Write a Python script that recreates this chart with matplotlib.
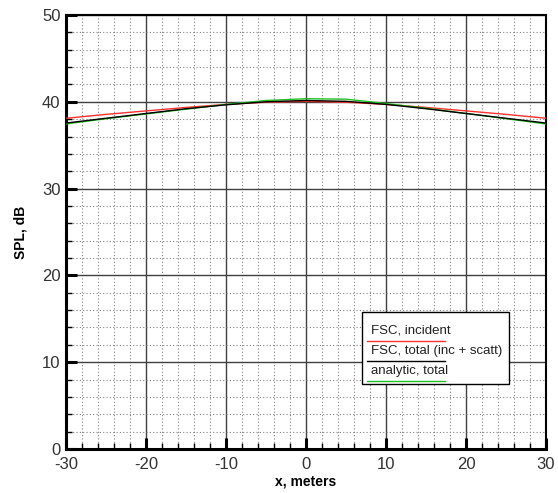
import matplotlib
matplotlib.use('Agg')
import matplotlib.pyplot as plt
from matplotlib.ticker import MultipleLocator
from matplotlib.patches import Rectangle

# ── datos ──
x_m = [-30, -25, -20, -15, -10, -5, 0, 5, 10, 15, 20, 25, 30]
spl_incident = [38.1, 38.55, 38.95, 39.35, 39.7, 39.95, 40.05, 39.95, 39.7, 39.35, 38.95, 38.55, 38.1]
spl_total = [37.55, 38.1, 38.65, 39.2, 39.65, 40.0, 40.15, 40.05, 39.7, 39.2, 38.65, 38.1, 37.55]
spl_analytic = [37.45, 38.05, 38.6, 39.15, 39.7, 40.15, 40.35, 40.3, 39.8, 39.25, 38.65, 38.05, 37.45]

labels = ['FSC, incident', 'FSC, total (inc + scatt)', 'analytic, total']
colors = ['#ff3030', '#000000', '#20c020']

plt.rcParams['font.family'] = ['Liberation Sans', 'DejaVu Sans']
plt.rcParams['axes.unicode_minus'] = False

fig = plt.figure(figsize=(5.58, 4.93), dpi=100, facecolor='white')
ax = fig.add_axes([0.1183, 0.0893, 0.8602, 0.8803])

ax.plot(x_m, spl_incident, color=colors[0], linewidth=1.0, zorder=3)
ax.plot(x_m, spl_total, color=colors[1], linewidth=1.0, zorder=4)
ax.plot(x_m, spl_analytic, color=colors[2], linewidth=1.0, zorder=3)

ax.set_xlim(-30, 30)
ax.set_ylim(0, 50)
ax.xaxis.set_major_locator(MultipleLocator(10))
ax.xaxis.set_minor_locator(MultipleLocator(2))
ax.yaxis.set_major_locator(MultipleLocator(10))
ax.yaxis.set_minor_locator(MultipleLocator(2))

# ── rejilla ──
ax.grid(True, which='major', color='#404040', linestyle='-', linewidth=1.0, zorder=1)
ax.grid(True, which='minor', color='#808080', linestyle=(0, (1, 2)), linewidth=0.8, zorder=1)
ax.set_axisbelow(True)

ax.tick_params(which='major', direction='in', length=8, width=2.2, colors='black',
               labelcolor='#333333', labelsize=12)
ax.tick_params(axis='x', which='major', pad=6)
ax.tick_params(axis='y', which='major', pad=4)
ax.tick_params(which='minor', direction='in', length=4, width=1.0, colors='black')

for side in ['left', 'bottom']:
    ax.spines[side].set_linewidth(2.2)
for side in ['top', 'right']:
    ax.spines[side].set_linewidth(1.5)

ax.set_xlabel('x, meters', fontsize=10, fontweight='bold', labelpad=1.5)
ax.set_ylabel('SPL, dB', fontsize=10, fontweight='bold', labelpad=10)

# ── leyenda manual ──
ax.add_patch(Rectangle((0.617, 0.150), 0.306, 0.166, transform=ax.transAxes,
                       facecolor='white', edgecolor='black', linewidth=1.0, zorder=5))
text_y = [0.272, 0.226, 0.180]
line_y = [0.249, 0.203, 0.157]
for lab, col, ty, ly in zip(labels, colors, text_y, line_y):
    ax.text(0.635, ty, lab, transform=ax.transAxes, fontsize=9.5, color='#222222',
            va='center', ha='left', zorder=6)
    ax.plot([0.627, 0.790], [ly, ly], transform=ax.transAxes, color=col,
            linewidth=1.0, zorder=6)

fig.savefig('out.png', dpi=100, facecolor='white')
plt.close(fig)
